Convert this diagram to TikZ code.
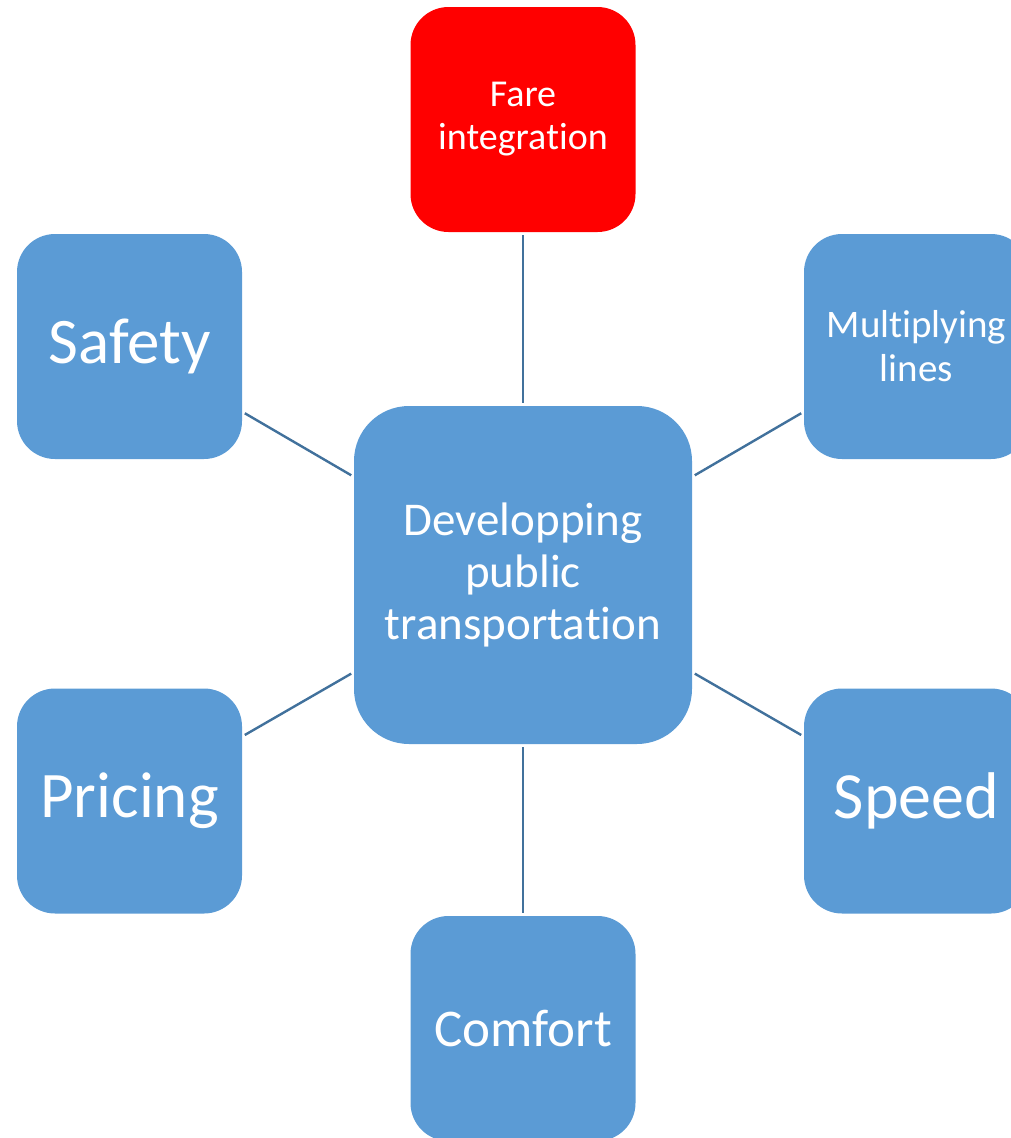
\documentclass[tikz,border=0pt]{standalone}
\usepackage{fontspec}
\setmainfont[Ligatures=NoCommon]{Carlito}
\definecolor{boxblue}{HTML}{5B9BD5}
\definecolor{linkblue}{HTML}{41719C}
\definecolor{farered}{HTML}{FF0000}
\begin{document}
\begin{tikzpicture}[x=1pt,y=-1pt,
  box/.style={draw=none, fill=boxblue, rounded corners=38pt, minimum width=225pt, minimum height=225pt, inner sep=0pt, text=white, align=center},
  bigbox/.style={box, minimum width=338pt, minimum height=338pt, rounded corners=55pt},
  link/.style={draw=linkblue, line width=2.4pt, shorten <=3pt, shorten >=3pt}]
\useasboundingbox (0,0) rectangle (1010,1138);
\node[bigbox, font=\fontsize{47}{52}\selectfont] (c) at (523,575) {Developping\\public\\transporta\kern0pt tion};
\node[box, fill=farered, font=\fontsize{38}{43}\selectfont] (fare) at (523,119.5) {Fare\\integra\kern0pt tion};
\node[box, font=\fontsize{65}{70}\selectfont] (safety) at (129.5,346.5) {Safety};
\node[box, font=\fontsize{39}{44}\selectfont] (multi) at (916.5,346.5) {Multiplying\\lines};
\node[box, font=\fontsize{65}{70}\selectfont] (pricing) at (129.5,801) {Pricing};
\node[box, font=\fontsize{66}{70}\selectfont] (speed) at (916.5,801) {Speed};
\node[box, font=\fontsize{53}{58}\selectfont] (comfort) at (523,1028.5) {Comfort};
\draw[link] (c) -- (fare);
\draw[link] (c) -- (safety);
\draw[link] (c) -- (multi);
\draw[link] (c) -- (pricing);
\draw[link] (c) -- (speed);
\draw[link] (c) -- (comfort);
\end{tikzpicture}
\end{document}
